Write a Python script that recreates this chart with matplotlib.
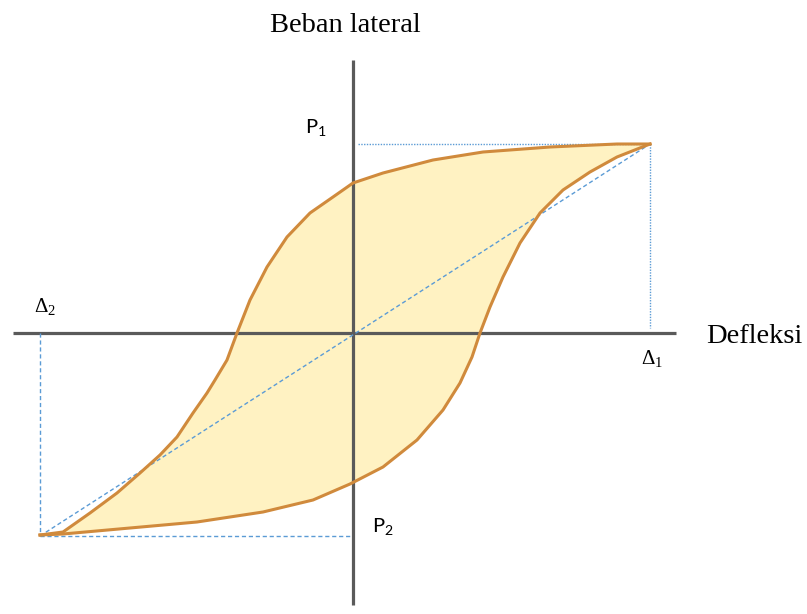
import matplotlib.pyplot as plt

# hysteresis loop (arbitrary units, origin at axis crossing)
d1, p1 = 297, 189      # Delta1, P1
d2, p2 = -313, -203    # Delta2, P2

upper_x = [-313, -290, -263, -236, -213, -193, -176, -160, -146, -138, -126, -116, -103, -86, -66, -43, -20, 0, 30, 80, 130, 197, 264, 297]
upper_y = [-202, -199, -180, -160, -140, -122, -104, -80, -60, -47, -27, 0, 33, 66, 96, 120, 136, 150, 160, 173, 181, 186, 189, 189]

lower_x = [-313, -290, -223, -156, -90, -40, -3, 30, 64, 90, 107, 119, 127, 137, 150, 167, 187, 210, 237, 264, 297]
lower_y = [-202, -201, -195, -189, -179, -167, -151, -134, -107, -77, -50, -24, 0, 26, 56, 90, 120, 143, 161, 176, 189]

fig = plt.figure(figsize=(8.07, 6.14), dpi=100)
ax = fig.add_axes([0, 0, 1, 1])
ax.set_xlim(-353, 454)
ax.set_ylim(-281, 333)
ax.axis('off')

# loop fill
ax.fill(upper_x + lower_x[::-1], upper_y + lower_y[::-1], color='#FFF2C2', zorder=1)

# axes lines
ax.plot([-340, 323], [0, 0], color='#5a5a5a', lw=2.3, solid_capstyle='butt', zorder=2)
ax.plot([0, 0], [273, -272], color='#5a5a5a', lw=2.3, solid_capstyle='butt', zorder=2)

# guide lines
blue = '#5B9BD5'
ax.plot([d2, d1], [p2, p1], color=blue, lw=1, ls=(0, (3, 2)), zorder=3)
ax.plot([5, d1], [p1, p1], color=blue, lw=1, ls=(0, (1, 1)), zorder=3)
ax.plot([d1, d1], [p1, 5], color=blue, lw=1, ls=(0, (1, 1)), zorder=3)
ax.plot([d2, d2], [0, p2], color=blue, lw=1, ls=(0, (3, 2)), zorder=3)
ax.plot([d2, -2], [p2, p2], color=blue, lw=1, ls=(0, (3, 2)), zorder=3)

# loop outline
ax.plot(upper_x, upper_y, color='#D08A3C', lw=2.2, zorder=4, solid_joinstyle='round')
ax.plot(lower_x, lower_y, color='#D08A3C', lw=2.2, zorder=4, solid_joinstyle='round')

serif = ['Liberation Serif', 'DejaVu Serif']
sans = ['Lato', 'DejaVu Sans']
ax.text(-8, 308, 'Beban lateral', family=serif, fontsize=20.5, ha='center', va='center')
ax.text(353, -10, 'Defleksi', family=serif, fontsize=20.5, ha='left', va='baseline')
ax.text(299, -26, r'Δ$_\mathregular{1}$', family=serif, fontsize=15, ha='center', va='center')
ax.text(-308, 26, r'Δ$_\mathregular{2}$', family=serif, fontsize=15, ha='center', va='center')
ax.text(-37, 205, r'P$_\mathregular{1}$', family=sans, fontsize=14.5, ha='center', va='center')
ax.text(30, -194, r'P$_\mathregular{2}$', family=sans, fontsize=14.5, ha='center', va='center')

fig.savefig('out.png', dpi=100)
